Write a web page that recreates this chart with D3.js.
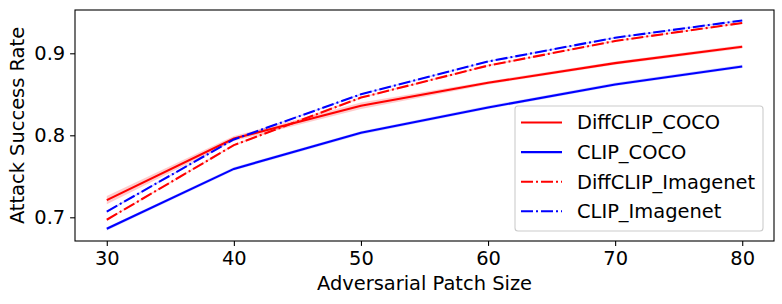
<!DOCTYPE html>
<html><head><meta charset="utf-8">
<script src="https://cdn.jsdelivr.net/npm/d3@7"></script>
<style>body{margin:0;background:#fff}svg{display:block;font-family:"DejaVu Sans",sans-serif}</style>
</head><body><svg id="c" width="782" height="304"></svg>
<script>
const patchSizes = [30, 40, 50, 60, 70, 80];
const seriesNames = ["DiffCLIP_COCO", "CLIP_COCO", "DiffCLIP_Imagenet", "CLIP_Imagenet"];
const diffclipCoco = [0.721, 0.796, 0.836, 0.864, 0.888, 0.908];
const clipCoco = [0.686, 0.759, 0.803, 0.834, 0.862, 0.884];
const diffclipImagenet = [0.697, 0.788, 0.846, 0.885, 0.915, 0.937];
const clipImagenet = [0.707, 0.795, 0.850, 0.890, 0.919, 0.940];
const diffclipCocoStd = [0.005, 0.003, 0.004, 0.002, 0.002, 0.002];
const clipCocoStd = [0.002, 0.002, 0.002, 0.002, 0.002, 0.002];
const diffclipImagenetStd = [0.001, 0.001, 0.001, 0.001, 0.001, 0.001];
const clipImagenetStd = [0.001, 0.001, 0.001, 0.001, 0.001, 0.001];
const xTicks = [30, 40, 50, 60, 70, 80];
const yTicks = [0.7, 0.8, 0.9];

const series = [
  {name: seriesNames[0], v: diffclipCoco, s: diffclipCocoStd, color: "#ff0000", dash: null},
  {name: seriesNames[1], v: clipCoco, s: clipCocoStd, color: "#0000ff", dash: null},
  {name: seriesNames[2], v: diffclipImagenet, s: diffclipImagenetStd, color: "#ff0000", dash: "12,3,2,3"},
  {name: seriesNames[3], v: clipImagenet, s: clipImagenetStd, color: "#0000ff", dash: "12,3,2,3"}
];

const L = 75, R = 774, T = 10, B = 241;
const svg = d3.select("#c");
const x = d3.scaleLinear().domain([27.5, 82.5]).range([L, R]);
const y = d3.scaleLinear().domain([0.6711, 0.9528]).range([B, T]);
const fs = "19.44px";

const g = svg.append("g");
series.forEach(s => {
  const area = d3.area().x((d, i) => x(patchSizes[i])).y0((d, i) => y(d - s.s[i])).y1((d, i) => y(d + s.s[i]));
  g.append("path").attr("d", area(s.v)).attr("fill", s.color).attr("fill-opacity", 0.2);
});
series.forEach(s => {
  const line = d3.line().x((d, i) => x(patchSizes[i])).y(d => y(d));
  g.append("path").attr("d", line(s.v)).attr("fill", "none").attr("stroke", s.color)
    .attr("stroke-width", 2.1).attr("stroke-dasharray", s.dash);
});

const xa = svg.append("g").attr("transform", `translate(0,${B})`)
  .call(d3.axisBottom(x).tickValues(xTicks).tickSize(4.9).tickPadding(4.9).tickFormat(d3.format("d")));
const ya = svg.append("g").attr("transform", `translate(${L},0)`)
  .call(d3.axisLeft(y).tickValues(yTicks).tickSize(4.9).tickPadding(4.9).tickFormat(d3.format(".1f")));
[xa, ya].forEach(a => {
  a.select(".domain").remove();
  a.selectAll("line").attr("stroke", "#000").attr("stroke-width", 1.1);
  a.selectAll("text").attr("font-size", fs).attr("font-family", "DejaVu Sans").attr("fill", "#000");
});

svg.append("rect").attr("x", L).attr("y", T).attr("width", R - L).attr("height", B - T)
  .attr("fill", "none").attr("stroke", "#000").attr("stroke-width", 1.1);

svg.append("text").attr("x", (L + R) / 2).attr("y", 290).attr("text-anchor", "middle")
  .attr("font-size", fs).text("Adversarial Patch Size");
svg.append("text").attr("transform", `translate(24,${(T + B) / 2}) rotate(-90)`).attr("text-anchor", "middle")
  .attr("font-size", fs).text("Attack Success Rate");

const lg = svg.append("g");
lg.append("rect").attr("x", 515).attr("y", 106).attr("width", 248).attr("height", 125).attr("rx", 3)
  .attr("fill", "#fff").attr("fill-opacity", 0.8).attr("stroke", "#cccccc").attr("stroke-width", 1.1);
series.forEach((s, i) => {
  const yy = 122.5 + i * 29.6;
  lg.append("line").attr("x1", 521).attr("x2", 562).attr("y1", yy).attr("y2", yy)
    .attr("stroke", s.color).attr("stroke-width", 2.1).attr("stroke-dasharray", s.dash);
  lg.append("text").attr("x", 577).attr("y", yy).attr("dy", "0.35em").attr("font-size", fs).text(s.name);
});
</script></body></html>
